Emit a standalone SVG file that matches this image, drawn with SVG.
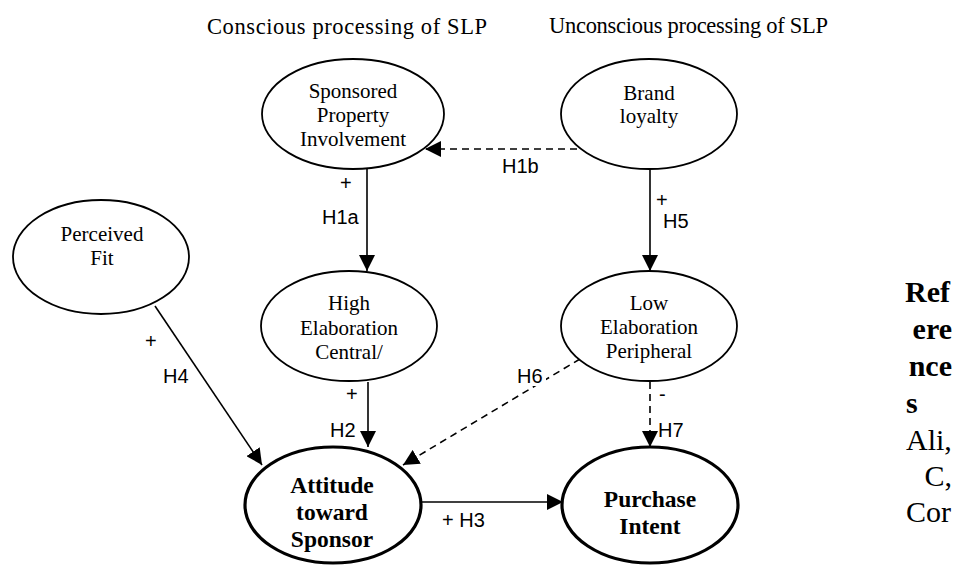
<svg xmlns="http://www.w3.org/2000/svg" width="959" height="570" viewBox="0 0 959 570">
<style>
.node{fill:#fff;stroke:#000;stroke-width:1.8}
.bold{stroke-width:3.2}
.nt{font-family:"Liberation Serif","Times New Roman",serif;font-size:21px;text-anchor:middle;fill:#000}
.bt{font-family:"Liberation Serif","Times New Roman",serif;font-size:23.5px;font-weight:bold;text-anchor:middle;fill:#000}
.title{font-family:"Liberation Serif","Times New Roman",serif;font-size:22.5px;fill:#000}
.lab{font-family:"Liberation Sans",Arial,sans-serif;font-size:20px;fill:#000}
.sign{font-family:"Liberation Sans",Arial,sans-serif;font-size:20px;fill:#000}
.conn{fill:none;stroke:#000;stroke-width:1.6}
.dash{stroke-dasharray:7 5}
.ref{font-family:"Liberation Serif","Times New Roman",serif;font-size:30px;fill:#000}
</style>
<defs>
<marker id="ah" viewBox="0 0 16 16" refX="16" refY="8" markerWidth="16" markerHeight="16" markerUnits="userSpaceOnUse" orient="auto">
<path d="M0,0 L16,8 L0,16 Z" fill="#000"/>
</marker>
</defs>
<rect width="959" height="570" fill="#fff"/>
<text class="title" x="207" y="34" textLength="280" lengthAdjust="spacing">Conscious processing of SLP</text>
<text class="title" x="549" y="33" textLength="279" lengthAdjust="spacing">Unconscious processing of SLP</text>

<g id="connectors">
<line class="conn" x1="367" y1="169" x2="367" y2="271" marker-end="url(#ah)"/>
<line class="conn dash" x1="577" y1="149" x2="425" y2="149" marker-end="url(#ah)"/>
<line class="conn" x1="650" y1="169" x2="650" y2="271" marker-end="url(#ah)"/>
<line class="conn" x1="155" y1="306" x2="262" y2="465" marker-end="url(#ah)"/>
<line class="conn" x1="368" y1="382" x2="368" y2="447" marker-end="url(#ah)"/>
<line class="conn dash" x1="580" y1="359" x2="403" y2="465" marker-end="url(#ah)"/>
<line class="conn dash" x1="650" y1="382" x2="650" y2="447" marker-end="url(#ah)"/>
<line class="conn" x1="421" y1="502" x2="563" y2="502" marker-end="url(#ah)"/>
<text class="sign" x="340" y="190">+</text>
<text class="lab" x="322" y="224">H1a</text>
<text class="lab" x="502" y="173">H1b</text>
<text class="sign" x="656" y="207">+</text>
<text class="lab" x="663" y="228">H5</text>
<text class="sign" x="145" y="348">+</text>
<text class="lab" x="163" y="383">H4</text>
<text class="sign" x="346" y="401">+</text>
<text class="lab" x="330" y="437">H2</text>
<rect x="516" y="364" width="30" height="22" fill="#fff"/>
<text class="lab" x="517" y="383">H6</text>
<text class="sign" x="659" y="401">-</text>
<text class="lab" x="658" y="437">H7</text>
<text class="lab" x="442" y="527">+ H3</text>
</g>

<g id="spi">
<ellipse class="node" cx="353" cy="114" rx="91" ry="55"/>
<text class="nt" x="353" y="98">Sponsored</text>
<text class="nt" x="353" y="122">Property</text>
<text class="nt" x="353" y="146">Involvement</text>
</g>
<g id="brand">
<ellipse class="node" cx="649" cy="114" rx="88" ry="55"/>
<text class="nt" x="649" y="100">Brand</text>
<text class="nt" x="649" y="123">loyalty</text>
</g>
<g id="fit">
<ellipse class="node" cx="101" cy="257" rx="88" ry="57"/>
<text class="nt" x="102" y="241">Perceived</text>
<text class="nt" x="102" y="265">Fit</text>
</g>
<g id="high">
<ellipse class="node" cx="349" cy="326" rx="88" ry="55"/>
<text class="nt" x="349" y="310">High</text>
<text class="nt" x="349" y="335">Elaboration</text>
<text class="nt" x="349" y="359">Central/</text>
</g>
<g id="low">
<ellipse class="node" cx="649" cy="326" rx="88" ry="55"/>
<text class="nt" x="649" y="310">Low</text>
<text class="nt" x="649" y="334">Elaboration</text>
<text class="nt" x="649" y="358">Peripheral</text>
</g>
<g id="attitude">
<ellipse class="node bold" cx="333" cy="505" rx="88" ry="58"/>
<text class="bt" x="332" y="493">Attitude</text>
<text class="bt" x="332" y="520">toward</text>
<text class="bt" x="332" y="547">Sponsor</text>
</g>
<g id="purchase">
<ellipse class="node bold" cx="650" cy="505" rx="88" ry="58"/>
<text class="bt" x="650" y="507">Purchase</text>
<text class="bt" x="650" y="534">Intent</text>
</g>

<g id="references">
<text class="ref" font-weight="bold" x="905" y="302">Ref</text>
<text class="ref" font-weight="bold" x="952" y="339" text-anchor="end">ere</text>
<text class="ref" font-weight="bold" x="952" y="376" text-anchor="end">nce</text>
<text class="ref" font-weight="bold" x="906" y="413">s</text>
<text class="ref" x="906" y="450">Ali,</text>
<text class="ref" x="952" y="486" text-anchor="end">C,</text>
<text class="ref" x="906" y="522">Cor</text>
</g>
</svg>
